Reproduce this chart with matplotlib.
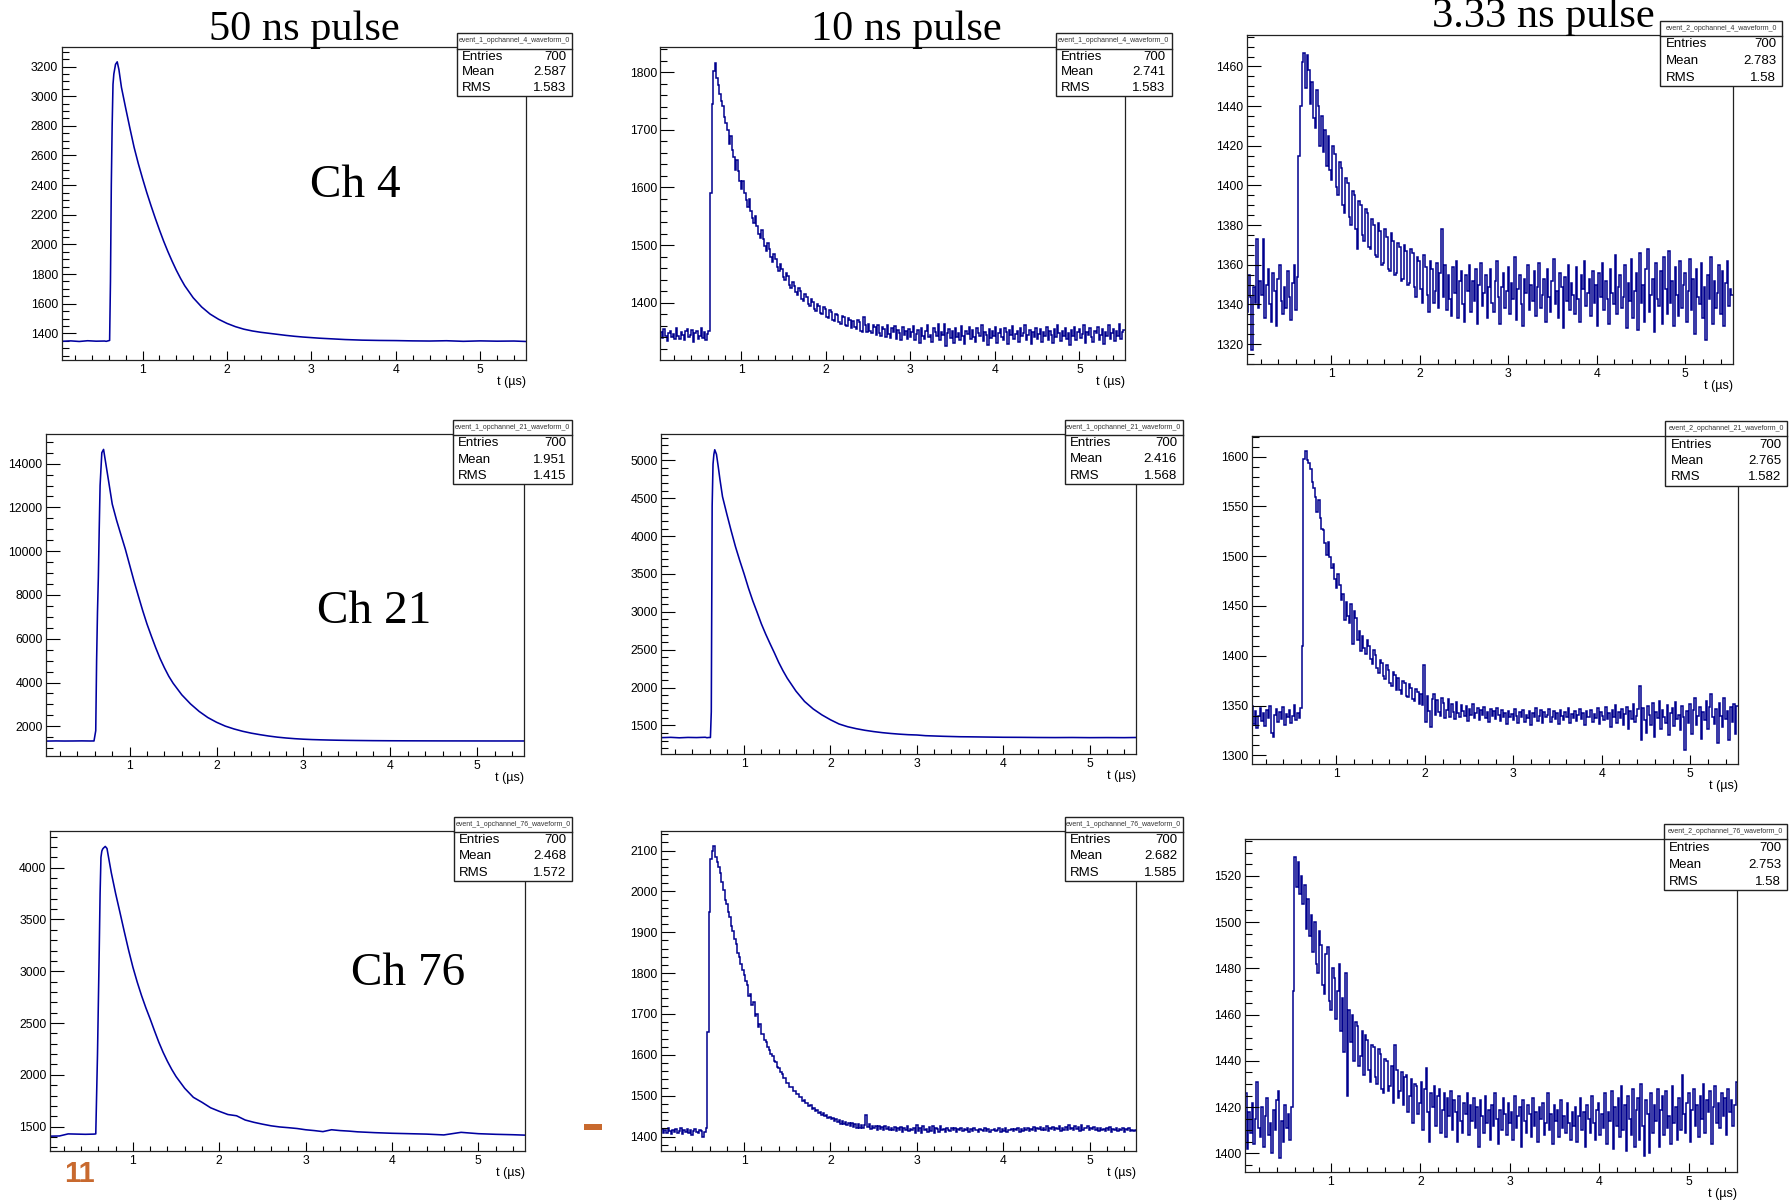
import numpy as np
import matplotlib
matplotlib.use("Agg")
import matplotlib.pyplot as plt
from matplotlib.patches import Rectangle
from matplotlib.lines import Line2D
from matplotlib.ticker import MultipleLocator, FormatStrFormatter

# ---------------- data ----------------
t_min, t_max = 0.04, 5.54

t_smooth = [0.04, 0.15, 0.25, 0.35, 0.45, 0.55, 0.57, 0.59, 0.61, 0.62, 0.63, 0.64, 0.65, 0.66,
            0.68, 0.70, 0.72, 0.75, 0.80, 0.85, 0.90, 0.95, 1.00, 1.05, 1.10, 1.15, 1.20, 1.25,
            1.30, 1.35, 1.40, 1.45, 1.50, 1.60, 1.70, 1.80, 1.90, 2.00, 2.10, 2.20, 2.30, 2.40,
            2.50, 2.60, 2.70, 2.80, 2.90, 3.00, 3.10, 3.20, 3.30, 3.40, 3.50, 3.60, 3.80, 4.00,
            4.20, 4.40, 4.60, 4.80, 5.00, 5.20, 5.40, 5.54]

ch4_50ns = [1346, 1349, 1345, 1350, 1347, 1348, 1346, 1349, 1352, 1750, 2400, 2800, 3080, 3150,
            3215, 3232, 3180, 3060, 2920, 2785, 2655, 2545, 2445, 2350, 2262, 2178, 2098, 2022,
            1952, 1887, 1826, 1771, 1721, 1640, 1578, 1530, 1495, 1467, 1445, 1428, 1416, 1407,
            1400, 1393, 1386, 1380, 1375, 1371, 1367, 1364, 1361, 1358, 1356, 1354, 1352, 1351,
            1349, 1348, 1350, 1346, 1349, 1347, 1348, 1345]

ch21_50ns = [1325, 1332, 1328, 1330, 1334, 1329, 1331, 1330, 1800, 5000, 7200, 8800, 11000, 13000,
             14500, 14650, 14150, 13400, 12150, 11410, 10750, 10100, 9370, 8640, 7960, 7290, 6670, 6120,
             5590, 5100, 4675, 4290, 3970, 3440, 3025, 2680, 2400, 2185, 2010, 1880, 1773, 1687,
             1618, 1556, 1505, 1466, 1435, 1411, 1394, 1382, 1372, 1364, 1358, 1353, 1345, 1340,
             1337, 1335, 1333, 1332, 1331, 1330, 1330, 1330]

ch21_10ns = [1338, 1342, 1336, 1341, 1339, 1343, 1337, 1340, 1340, 1680, 4400, 4950, 5080, 5140,
             5080, 4920, 4750, 4520, 4290, 4070, 3860, 3675, 3500, 3314, 3146, 2995, 2840, 2705,
             2580, 2459, 2333, 2222, 2122, 1953, 1816, 1717, 1639, 1574, 1518, 1482, 1456, 1435,
             1418, 1404, 1393, 1384, 1377, 1373, 1364, 1360, 1356, 1353, 1350, 1349, 1346, 1343,
             1342, 1340, 1339, 1340, 1338, 1339, 1338, 1340]

ch76_50ns = [1408, 1410, 1430, 1428, 1426, 1428, 1430, 2200, 3200, 3750, 4100, 4160, 4180, 4190,
             4205, 4185, 4090, 3950, 3750, 3568, 3383, 3204, 3039, 2895, 2765, 2647, 2539, 2425,
             2315, 2217, 2130, 2052, 1983, 1870, 1783, 1735, 1682, 1648, 1617, 1605, 1564, 1542,
             1524, 1508, 1497, 1490, 1482, 1470, 1462, 1452, 1470, 1462, 1457, 1450, 1442, 1436,
             1432, 1428, 1420, 1445, 1432, 1426, 1422, 1418]

ch4_10ns = [
    1349, 1339, 1354, 1343, 1334, 1348, 1352, 1341, 1346, 1337, 1357, 1342, 1338, 1350, 1345, 1336,
    1351, 1355, 1340, 1344, 1353, 1333, 1347, 1351, 1338, 1342, 1356, 1339, 1349, 1335, 1346, 1352,
    1590, 1745, 1802, 1816, 1790, 1778, 1762, 1750,
    1741, 1722, 1712, 1700, 1676, 1690, 1665, 1652, 1630, 1648, 1628, 1611, 1598, 1612, 1590, 1579,
    1566, 1580, 1560, 1547, 1538, 1551, 1533, 1520, 1512, 1526, 1510, 1498, 1490, 1503, 1494, 1480,
    1470, 1484, 1476, 1462, 1455, 1468, 1459, 1445, 1440, 1452, 1446, 1431, 1425, 1437, 1430, 1418,
    1413, 1426, 1421, 1407, 1404, 1416, 1410, 1398, 1394, 1406, 1402, 1389, 1386, 1398, 1394, 1382,
    1380, 1392, 1389, 1376, 1374, 1387, 1384, 1370, 1368, 1381, 1379, 1366, 1364, 1377, 1375, 1362,
    1360, 1373, 1371, 1357, 1368, 1358, 1355, 1370, 1366, 1352, 1350, 1376, 1361, 1349, 1364, 1351,
    1347, 1362, 1358, 1344, 1361, 1348, 1343, 1359, 1355, 1341, 1362, 1346, 1339, 1356, 1350, 1360,
    1338, 1353, 1347, 1336, 1358, 1344, 1351, 1337,
    1355, 1340, 1349, 1360, 1335, 1346, 1353, 1331, 1357, 1343,
    1338, 1352, 1361, 1340, 1345, 1333, 1356, 1349, 1342, 1364,
    1336, 1350, 1344, 1363, 1326, 1348, 1355, 1339, 1352, 1330,
    1357, 1341, 1347, 1335, 1360, 1343, 1329, 1351, 1346, 1358,
    1337, 1353, 1340, 1332, 1356, 1348, 1342, 1361, 1334, 1350,
    1345, 1327, 1355, 1339, 1352, 1343, 1358, 1331, 1347, 1354,
    1340, 1336, 1357, 1349, 1329, 1353, 1344, 1360, 1338, 1346,
    1351, 1333, 1356, 1342, 1348, 1362, 1335, 1344, 1353, 1328,
    1350, 1341, 1357, 1337, 1346, 1355, 1332, 1349, 1343, 1359,
    1336, 1352, 1345, 1330, 1354, 1340, 1361, 1347, 1334, 1351,
    1343, 1356, 1338, 1348, 1327, 1353, 1342, 1358, 1335, 1349,
    1355, 1339, 1346, 1362, 1331, 1350, 1344, 1357, 1340, 1333,
    1352, 1347, 1359, 1336, 1345, 1354, 1329, 1350, 1343, 1361,
    1338, 1348, 1355, 1334, 1351, 1342, 1363, 1337, 1349, 1353]

ch4_3ns = [
    1336, 1355, 1344, 1317, 1349, 1341, 1373, 1338, 1352, 1345, 1373, 1333, 1350, 1358, 1340, 1331,
    1356, 1347, 1329, 1353, 1360, 1342, 1335, 1349, 1338, 1357, 1344, 1332, 1351, 1360, 1337, 1354,
    1415, 1440, 1462, 1467,
    1449, 1466, 1458, 1441, 1452, 1434, 1429, 1448, 1440, 1420, 1435, 1417, 1428, 1410, 1425, 1408,
    1403, 1420, 1416, 1399, 1395, 1412, 1409, 1390, 1386, 1404, 1401, 1384, 1380, 1397, 1395, 1378,
    1368, 1392, 1390, 1375, 1372, 1388, 1386, 1369, 1368, 1383, 1380, 1365, 1364, 1381, 1377, 1360,
    1361, 1378, 1374, 1358, 1357, 1376, 1372, 1355, 1356, 1371, 1369, 1352, 1353, 1370, 1367, 1350,
    1351, 1368, 1366, 1349, 1344, 1364, 1362, 1348, 1341, 1365, 1359, 1345, 1336, 1362, 1358, 1341,
    1347, 1361, 1338, 1356, 1378, 1344, 1360, 1337, 1355, 1343, 1334, 1359, 1346, 1362, 1333, 1352,
    1357, 1340, 1331, 1355, 1347, 1360, 1336, 1352, 1342, 1358, 1330, 1350,
    1361, 1339, 1346, 1355, 1333, 1349,
    1358, 1341, 1336, 1352, 1362, 1344, 1330, 1349, 1356, 1338,
    1347, 1359, 1335, 1351, 1343, 1364, 1332, 1348, 1355, 1340,
    1329, 1353, 1346, 1360, 1337, 1350, 1342, 1357, 1334, 1349,
    1361, 1338, 1345, 1353, 1331, 1358, 1344, 1336, 1352, 1363,
    1340, 1347, 1333, 1356, 1349, 1328, 1354, 1342, 1360, 1337,
    1351, 1345, 1335, 1359, 1343, 1331, 1355, 1348, 1362, 1339,
    1346, 1353, 1334, 1357, 1341, 1350, 1329, 1356, 1344, 1361,
    1337, 1352, 1343, 1330, 1358, 1346, 1340, 1365, 1335, 1349,
    1355, 1338, 1344, 1360, 1328, 1351, 1342, 1363, 1333, 1347,
    1356, 1327, 1366, 1341, 1350, 1331, 1358, 1368, 1336, 1345,
    1353, 1326, 1361, 1343, 1339, 1357, 1330, 1364, 1348, 1335,
    1367, 1341, 1352, 1329, 1359, 1345, 1334, 1362, 1338, 1350,
    1356, 1331, 1347, 1363, 1337, 1353, 1325, 1358, 1344, 1340,
    1361, 1333, 1349, 1322, 1355, 1343, 1364, 1330, 1352, 1338,
    1346, 1360, 1335, 1357, 1329, 1351, 1362, 1339, 1348, 1345]

ch21_3ns = [
    1350, 1331, 1345, 1327, 1340, 1348, 1334, 1343, 1329, 1346, 1337, 1350, 1322, 1318, 1341, 1347,
    1333, 1344, 1336, 1349, 1330, 1342, 1338, 1346, 1332, 1340, 1351, 1335, 1343, 1337, 1348,
    1410, 1598, 1606, 1597, 1594,
    1588, 1575, 1568, 1559, 1544, 1556, 1538, 1527, 1526, 1513, 1501, 1514, 1499, 1488, 1492, 1477,
    1468, 1482, 1471, 1456, 1462, 1436, 1454, 1440, 1433, 1452, 1412, 1445, 1438, 1416, 1425, 1405,
    1420, 1408, 1402, 1416, 1410, 1397, 1392, 1406, 1401, 1388, 1383, 1396, 1393, 1380, 1377, 1391,
    1386, 1373, 1370, 1384, 1381, 1366, 1378, 1366, 1362, 1375, 1373, 1360, 1359, 1372, 1368, 1357,
    1355, 1367, 1364, 1352,
    1362, 1351, 1391, 1333,
    1360, 1345, 1328, 1357, 1362, 1341, 1356, 1344, 1340, 1358, 1353, 1337, 1346, 1357, 1339, 1352,
    1344, 1336, 1354, 1343, 1338, 1351, 1345, 1340, 1350, 1334, 1347, 1341, 1352, 1337, 1343, 1348,
    1335, 1346, 1341, 1349,
    1337, 1344, 1333, 1347, 1340, 1345,
    1336, 1348, 1341, 1334, 1346, 1339, 1343, 1331, 1345, 1338,
    1342, 1335, 1347, 1340, 1332, 1344, 1338, 1346, 1333, 1341,
    1337, 1345, 1330, 1343, 1339, 1348, 1334, 1340, 1346, 1332,
    1344, 1338, 1341, 1347, 1333, 1339, 1345, 1336, 1343, 1331,
    1346, 1340, 1335, 1344, 1338, 1348, 1332, 1342, 1337, 1345,
    1334, 1341, 1347, 1336, 1343, 1330, 1345, 1339, 1338, 1346,
    1333, 1342, 1337, 1348, 1331, 1344, 1340, 1335, 1349, 1336,
    1343, 1328, 1346, 1339, 1351, 1332, 1344, 1337, 1347, 1330,
    1342, 1349, 1326, 1345, 1336, 1352, 1333, 1340, 1347, 1370,
    1315, 1348, 1335, 1322, 1350, 1341, 1330, 1353, 1318, 1344,
    1337, 1355, 1326, 1346, 1339, 1332, 1351, 1320, 1343, 1348,
    1329, 1354, 1336, 1341, 1325, 1350, 1338, 1305, 1345, 1332,
    1352, 1321, 1346, 1358, 1330, 1340, 1349, 1316, 1344, 1335,
    1355, 1326, 1349, 1362, 1338, 1331, 1347, 1312, 1353, 1340,
    1328, 1358, 1336, 1345, 1315, 1349, 1333, 1352, 1321, 1350]

ch76_10ns = [
    1419, 1410, 1416, 1408, 1421, 1413, 1406, 1417, 1411, 1419, 1409, 1414, 1420, 1407, 1415, 1412,
    1418, 1410, 1416, 1404, 1413, 1419, 1411, 1408, 1417, 1414, 1398, 1412, 1420,
    1655, 1950, 2080, 2100, 2110, 2085, 2072,
    2060, 2046, 2022, 2004, 1980, 1968, 1950, 1938, 1916, 1903, 1884, 1872, 1850, 1840, 1822, 1808,
    1795, 1780, 1770, 1745, 1748, 1722, 1730, 1694, 1700, 1668, 1676, 1652, 1650, 1636, 1632, 1618,
    1613, 1601, 1597, 1586, 1583, 1571, 1568, 1557, 1554, 1544, 1543, 1532, 1531, 1522, 1521, 1512,
    1512, 1503, 1505, 1496, 1496, 1488, 1489, 1481, 1482, 1474, 1477, 1468, 1470, 1463, 1466, 1458,
    1461, 1453, 1457, 1450, 1453, 1445, 1449, 1442, 1446, 1438, 1443, 1435, 1441, 1432, 1438, 1430,
    1436, 1428, 1434, 1426, 1433, 1424, 1431, 1422, 1430, 1421, 1428, 1420, 1429, 1452, 1423, 1431,
    1418, 1427, 1420, 1425, 1417, 1426, 1419, 1424, 1416, 1425, 1418, 1423,
    1415, 1422, 1417, 1424, 1414, 1421,
    1416, 1423, 1412, 1420, 1417, 1425, 1413, 1419, 1415, 1422,
    1410, 1428, 1414, 1421, 1408, 1426, 1416, 1419, 1411, 1424,
    1413, 1427, 1409, 1422, 1418, 1412, 1425, 1415, 1419, 1411,
    1421, 1416, 1413, 1420, 1417, 1422, 1411, 1418, 1415, 1420,
    1413, 1419, 1416, 1421, 1412, 1418, 1414, 1420, 1415, 1417,
    1411, 1419, 1416, 1413, 1420, 1414, 1418, 1412, 1417, 1415,
    1419, 1413, 1416, 1421, 1412, 1418, 1414, 1420, 1411, 1417,
    1415, 1419, 1413, 1418, 1416, 1421, 1412, 1419, 1414, 1420,
    1416, 1422, 1413, 1419, 1417, 1423, 1414, 1420, 1418, 1424,
    1415, 1421, 1417, 1425, 1413, 1420, 1418, 1424, 1416, 1422,
    1419, 1426, 1414, 1421, 1417, 1424, 1415, 1428, 1418, 1422,
    1416, 1425, 1419, 1423, 1414, 1429, 1417, 1422, 1420, 1426,
    1415, 1421, 1418, 1424, 1416, 1420, 1413, 1422, 1417, 1419,
    1414, 1420, 1416, 1423, 1412, 1419, 1415, 1421, 1413, 1418,
    1416, 1420, 1411, 1418, 1415, 1421, 1413, 1417, 1414, 1416]

ch76_3ns = [
    1426, 1402, 1418, 1409, 1422, 1404, 1415, 1431, 1411, 1407, 1420, 1403, 1416, 1424, 1408, 1413,
    1400, 1419, 1410, 1423, 1427, 1398, 1414, 1405, 1421, 1411, 1417, 1406, 1420,
    1470, 1528, 1515, 1526, 1512, 1520, 1508,
    1516, 1497, 1510, 1494, 1503, 1487, 1500, 1482, 1478, 1496, 1490, 1473, 1469, 1486, 1489, 1466,
    1462, 1480, 1476, 1458, 1470, 1482, 1453, 1467, 1444, 1478, 1425, 1462, 1448, 1460, 1440, 1457,
    1455, 1438, 1442, 1453, 1434, 1451, 1449, 1436, 1431, 1447, 1446, 1433, 1430, 1445, 1443, 1428,
    1426, 1441, 1440, 1427, 1429, 1438, 1422, 1447, 1436, 1424, 1427, 1435, 1421, 1433, 1434, 1418,
    1425, 1432, 1413, 1430, 1429, 1417, 1422, 1431, 1410, 1428, 1437, 1418, 1405, 1426, 1420, 1429,
    1412, 1425, 1428, 1409, 1419, 1426, 1407, 1424, 1416, 1427, 1410, 1423, 1418, 1405, 1425, 1414,
    1409, 1422, 1417, 1426, 1408, 1421, 1414, 1424, 1411, 1420, 1403, 1423,
    1416, 1409, 1425, 1413, 1419, 1406,
    1421, 1412, 1426, 1415, 1404, 1419, 1410, 1424, 1417, 1408,
    1422, 1413, 1418, 1406, 1425, 1411, 1416, 1420, 1403, 1423,
    1414, 1409, 1421, 1417, 1407, 1424, 1412, 1418, 1405, 1420,
    1415, 1422, 1408, 1413, 1426, 1410, 1417, 1404, 1421, 1414,
    1419, 1407, 1423, 1411, 1416, 1409, 1422, 1413, 1406, 1418,
    1412, 1420, 1405, 1416, 1424, 1410, 1418, 1403, 1421, 1415,
    1409, 1425, 1413, 1406, 1419, 1422, 1408, 1417, 1411, 1426,
    1404, 1418, 1414, 1427, 1402, 1420, 1412, 1424, 1407, 1429,
    1410, 1421, 1401, 1425, 1415, 1408, 1428, 1403, 1419, 1424,
    1406, 1430, 1412, 1399, 1423, 1417, 1400, 1426, 1409, 1421,
    1414, 1428, 1403, 1419, 1425, 1408, 1427, 1411, 1416, 1404,
    1429, 1413, 1420, 1406, 1424, 1410, 1434, 1417, 1409, 1422,
    1426, 1405, 1419, 1428, 1412, 1421, 1407, 1425, 1415, 1430,
    1409, 1423, 1418, 1427, 1404, 1420, 1429, 1413, 1422, 1411,
    1426, 1416, 1424, 1408, 1428, 1418, 1423, 1412, 1421, 1431]

column_titles = ["50 ns pulse", "10 ns pulse", "3.33 ns pulse"]
channel_labels = ["Ch 4", "Ch 21", "Ch 76"]
hist_names = [["event_1_opchannel_4_waveform_0", "event_1_opchannel_4_waveform_0", "event_2_opchannel_4_waveform_0"],
              ["event_1_opchannel_21_waveform_0", "event_1_opchannel_21_waveform_0", "event_2_opchannel_21_waveform_0"],
              ["event_1_opchannel_76_waveform_0", "event_1_opchannel_76_waveform_0", "event_2_opchannel_76_waveform_0"]]
entries = [[700, 700, 700], [700, 700, 700], [700, 700, 700]]
means = [["2.587", "2.741", "2.783"], ["1.951", "2.416", "2.765"], ["2.468", "2.682", "2.753"]]
rmss = [["1.583", "1.583", "1.58"], ["1.415", "1.568", "1.582"], ["1.572", "1.585", "1.58"]]
x_label = "t (\u00b5s)"
page_number = "11"

# ---------------- layout / style ----------------
W, H, DPI = 1791, 1202, 100
SANS = ['Liberation Sans', 'DejaVu Sans']
SERIF = ['Liberation Serif', 'DejaVu Serif']
LINE = '#0000a0'
HIST_LINE = '#00008e'
ORANGE = '#c8692e'
plt.rcParams['font.family'] = SANS

fig = plt.figure(figsize=(W / DPI, H / DPI), dpi=DPI)
fig.patch.set_facecolor('white')


def fx(px):
    return px / W


def fy(py):
    return 1 - py / H


panels = [
    # row, col, values, kind, axes box (L,T,R,B px), ylim, major, minor, stats box (x0,y0,x1,y1)
    (0, 0, ch4_50ns, 'line', (61.5, 47.3, 525.8, 360.0), (1220, 3330), 200, 50, (456.5, 33.3, 572.3, 96.0)),
    (0, 1, ch4_10ns, 'hist', (660.4, 47.3, 1125.0, 360.0), (1301, 1843), 100, 20, (1055.8, 33.3, 1171.5, 96.0)),
    (0, 2, ch4_3ns, 'hist', (1246.5, 34.7, 1733.0, 364.0), (1310, 1476), 20, 5, (1660.4, 20.7, 1782.3, 86.0)),
    (1, 0, ch21_50ns, 'line', (46.2, 434.3, 524.2, 756.3), (630, 15340), 2000, 500, (453.0, 419.7, 572.3, 484.3)),
    (1, 1, ch21_10ns, 'line', (661.2, 433.7, 1136.2, 753.7), (1126, 5352), 500, 100, (1064.6, 419.7, 1183.0, 483.7)),
    (1, 2, ch21_3ns, 'hist', (1251.5, 435.7, 1738.0, 764.3), (1291, 1621), 50, 10, (1665.4, 421.0, 1787.3, 485.7)),
    (2, 0, ch76_50ns, 'line', (50.0, 831.3, 525.0, 1151.3), (1262, 4351), 500, 100, (453.8, 816.7, 572.3, 880.7)),
    (2, 1, ch76_10ns, 'hist', (661.2, 831.3, 1136.2, 1151.3), (1364, 2147), 100, 20, (1064.6, 816.7, 1183.0, 880.7)),
    (2, 2, ch76_3ns, 'hist', (1245.0, 838.7, 1737.3, 1172.0), (1392, 1536), 20, 5, (1663.8, 823.7, 1787.3, 890.0)),
]

for (r, c, vals, kind, box, ylim, major, minor, sbox) in panels:
    L, T, R, B = box
    ax = fig.add_axes([fx(L), fy(B), (R - L) / W, (B - T) / H])
    if kind == 'line':
        ax.plot(t_smooth, vals, color=LINE, lw=1.15)
    else:
        edges = np.linspace(t_min, t_max, len(vals) + 1)
        ax.stairs(vals, edges, baseline=None, color=HIST_LINE, lw=1.1)
    ax.set_xlim(t_min, t_max)
    ax.set_ylim(*ylim)
    ax.xaxis.set_major_locator(MultipleLocator(1))
    ax.xaxis.set_minor_locator(MultipleLocator(0.2))
    ax.xaxis.set_major_formatter(FormatStrFormatter('%d'))
    ax.yaxis.set_major_locator(MultipleLocator(major))
    ax.yaxis.set_minor_locator(MultipleLocator(minor))
    ax.yaxis.set_major_formatter(FormatStrFormatter('%d'))
    ax.tick_params(which='both', direction='in', top=False, right=False, colors='black', labelsize=8.8)
    ax.tick_params(axis='y', which='major', length=10, width=0.8, pad=2.5)
    ax.tick_params(axis='y', which='minor', length=5, width=0.8)
    ax.tick_params(axis='x', which='major', length=6.5, width=0.8, pad=3)
    ax.tick_params(axis='x', which='minor', length=3.3, width=0.8)
    for s in ax.spines.values():
        s.set_linewidth(0.9)
        s.set_color('#222222')
    fig.text(fx(R), fy(B + 22), x_label, ha='right', va='center', fontsize=9, family=SANS)

    # stats box
    x0, y0, x1, y1 = sbox
    fig.add_artist(Rectangle((fx(x0), fy(y1)), (x1 - x0) / W, (y1 - y0) / H,
                             transform=fig.transFigure, facecolor='white',
                             edgecolor='#222222', lw=1.0, zorder=5))
    th = 15.4
    fig.add_artist(Line2D([fx(x0), fx(x1)], [fy(y0 + th)] * 2, transform=fig.transFigure,
                          color='#222222', lw=1.0, zorder=6))
    fig.text(fx((x0 + x1) / 2), fy(y0 + th / 2), hist_names[r][c], ha='center', va='center',
             fontsize=5, color='#333333', zorder=7)
    rh = (y1 - y0 - th) / 3
    rows = [("Entries", str(entries[r][c])), ("Mean", means[r][c]), ("RMS", rmss[r][c])]
    for k, (lab, val) in enumerate(rows):
        yc = y0 + th + rh * (k + 0.5)
        fig.text(fx(x0 + 5), fy(yc), lab, ha='left', va='center', fontsize=9.5, zorder=7)
        fig.text(fx(x1 - 6), fy(yc), val, ha='right', va='center', fontsize=9.5, zorder=7)

# column titles
title_pos = [(304, 40), (906, 40), (1543, 27)]
for txt, (x, y) in zip(column_titles, title_pos):
    fig.text(fx(x), fy(y), txt, ha='center', va='baseline', fontsize=30.5, family=SERIF, zorder=4)

# channel labels
ch_pos = [(355, 197), (374, 623), (408, 985)]
for txt, (x, y) in zip(channel_labels, ch_pos):
    fig.text(fx(x), fy(y), txt, ha='center', va='baseline', fontsize=34, family=SERIF, zorder=4)

# slide decorations
fig.text(fx(79), fy(1182), page_number, ha='center', va='baseline', fontsize=21,
         fontweight='bold', color=ORANGE)
fig.add_artist(Rectangle((fx(584), fy(1129.5)), 18 / W, 5.5 / H, transform=fig.transFigure,
                         facecolor=ORANGE, edgecolor='none', zorder=5))

fig.savefig("out.png", dpi=DPI, facecolor='white')
